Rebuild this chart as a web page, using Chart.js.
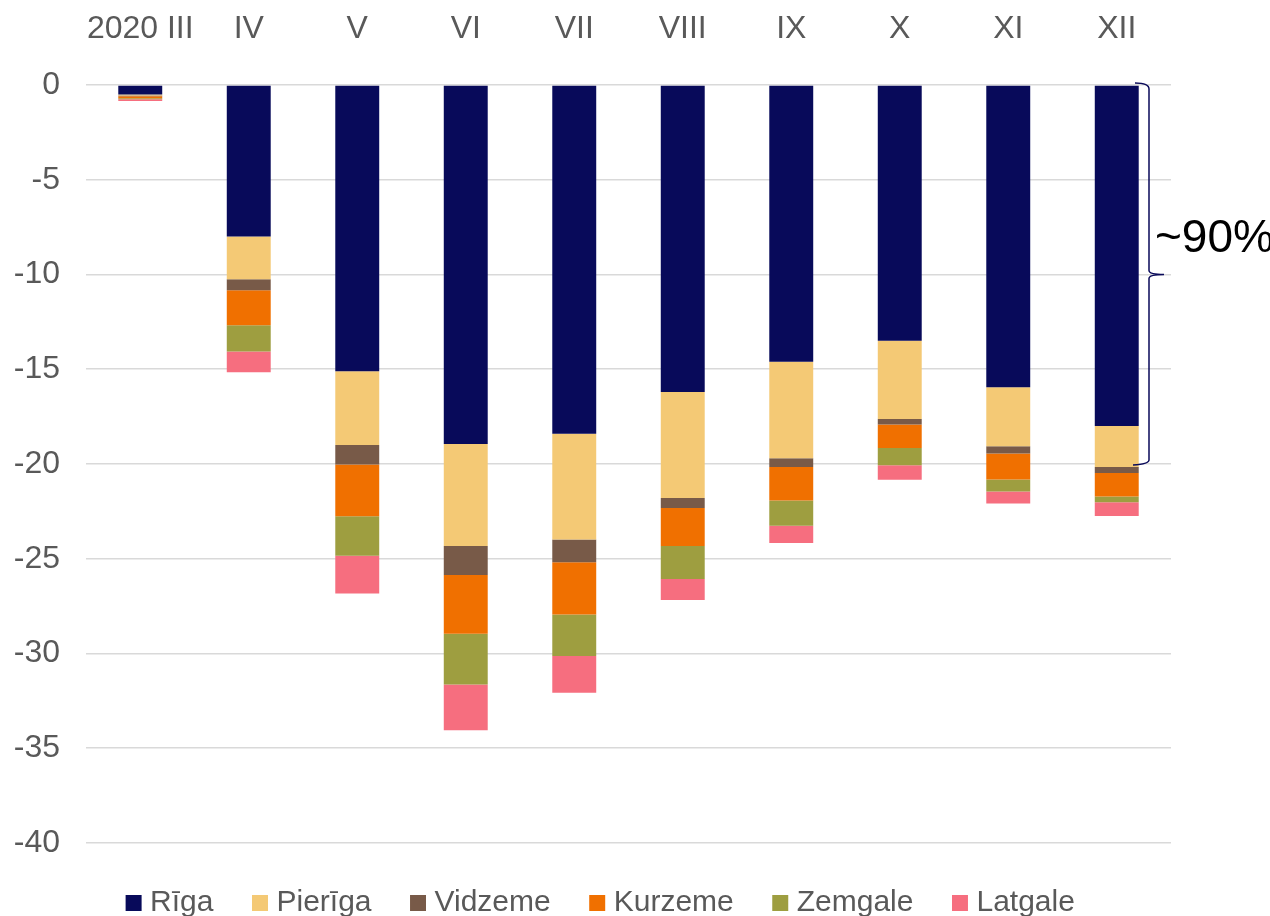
<!DOCTYPE html>
<html>
<head>
<meta charset="utf-8">
<script src="https://cdn.jsdelivr.net/npm/chart.js@4/dist/chart.umd.min.js"></script>
<style>
  html, body { margin: 0; padding: 0; background: #fff; overflow: hidden; }
  #wrap { width: 1270px; height: 916px; }
</style>
</head>
<body>
<div id="wrap"><canvas id="chart" width="1270" height="916"></canvas></div>
<script>
const months = ['2020 III', 'IV', 'V', 'VI', 'VII', 'VIII', 'IX', 'X', 'XI', 'XII'];

const riga     = [-0.5, -8.0, -15.1, -18.95, -18.4, -16.2, -14.6, -13.5, -15.95, -18.0];
const pieriga  = [-0.05, -2.25, -3.9, -5.38, -5.58, -5.59, -5.1, -4.13, -3.11, -2.16];
const vidzeme  = [-0.05, -0.58, -1.02, -1.53, -1.21, -0.53, -0.46, -0.29, -0.39, -0.32];
const kurzeme  = [-0.1, -1.85, -2.74, -3.1, -2.75, -2.01, -1.76, -1.24, -1.37, -1.23];
const zemgale  = [-0.05, -1.38, -2.08, -2.68, -2.19, -1.74, -1.34, -0.9, -0.63, -0.31];
const latgale  = [-0.1, -1.1, -2.0, -2.41, -1.94, -1.11, -0.91, -0.77, -0.63, -0.73];

const yTicks = [0, -5, -10, -15, -20, -25, -30, -35, -40];

// brace on the right side, from 0 to -20
const braceFrom = 0;
const braceTo = -20;
const braceText = '~90%';

const grey = '#595959';
const font = 'Liberation Sans, Arial, sans-serif';

const bracePlugin = {
  id: 'brace',
  afterLayout(chart) {
    // nudge legend a bit to the right, like the original
    chart.legend.left += 18;
    chart.legend.right += 18;
  },
  afterDraw(chart) {
    const ctx = chart.ctx;
    const y = chart.scales.y;
    const top = y.getPixelForValue(braceFrom);
    const bot = y.getPixelForValue(braceTo);
    const mid = (top + bot) / 2;
    const x = chart.chartArea.right - 22;
    ctx.save();
    ctx.strokeStyle = '#0a0a5a';
    ctx.lineWidth = 1.5;
    ctx.beginPath();
    ctx.moveTo(x - 14, top - 2);
    ctx.quadraticCurveTo(x, top - 2, x, top + 4);
    ctx.lineTo(x, mid - 4);
    ctx.quadraticCurveTo(x, mid, x + 15, mid);
    ctx.moveTo(x + 15, mid);
    ctx.quadraticCurveTo(x, mid, x, mid + 4);
    ctx.lineTo(x, bot - 4);
    ctx.quadraticCurveTo(x, bot, x - 16, bot + 1);
    ctx.stroke();
    ctx.fillStyle = '#000';
    ctx.font = '46px ' + font;
    ctx.textBaseline = 'alphabetic';
    ctx.fillText(braceText, x + 6, mid - 23);
    ctx.restore();
  }
};

const ds = (label, data, color) => ({
  label: label,
  data: data,
  backgroundColor: color,
  borderWidth: 0,
  categoryPercentage: 1,
  barPercentage: 0.405
});

new Chart(document.getElementById('chart').getContext('2d'), {
  type: 'bar',
  data: {
    labels: months,
    datasets: [
      ds('Rīga', riga, '#080a5a'),
      ds('Pierīga', pieriga, '#f4c975'),
      ds('Vidzeme', vidzeme, '#785a48'),
      ds('Kurzeme', kurzeme, '#f07000'),
      ds('Zemgale', zemgale, '#9e9e40'),
      ds('Latgale', latgale, '#f66e7f')
    ]
  },
  options: {
    responsive: false,
    animation: false,
    layout: { padding: { left: 0, right: 99, top: 0, bottom: -12 } },
    scales: {
      x: {
        stacked: true,
        position: 'top',
        grid: { display: false },
        border: { display: false },
        afterFit(scale) { scale.height = 85; },
        ticks: { color: grey, font: { family: font, size: 32 }, padding: 29, maxRotation: 0, autoSkip: false }
      },
      y: {
        stacked: true,
        min: -40,
        max: 0,
        afterBuildTicks(axis) { axis.ticks = yTicks.map(v => ({ value: v })); },
        afterFit(scale) { scale.width = 86; },
        grid: { color: '#d9d9d9', lineWidth: 1.6, drawTicks: false },
        border: { display: false },
        ticks: { color: grey, font: { family: font, size: 32 }, padding: 26 }
      }
    },
    plugins: {
      legend: {
        position: 'bottom',
        labels: {
          color: grey,
          font: { family: font, size: 30 },
          usePointStyle: true,
          pointStyle: 'rect',
          boxWidth: 3,
          boxHeight: 16,
          padding: 45
        }
      },
      tooltip: { enabled: false }
    }
  },
  plugins: [bracePlugin]
});
</script>
</body>
</html>
